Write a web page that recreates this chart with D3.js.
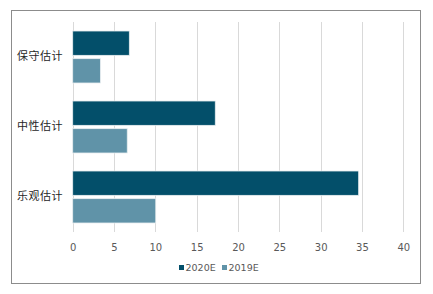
<!DOCTYPE html>
<html><head><meta charset="utf-8">
<script src="https://cdn.jsdelivr.net/npm/d3@7"></script>
<style>body{margin:0;background:#fff}</style>
</head><body>
<svg id="c" width="433" height="294"></svg>
<script>
const categories = ["保守估计", "中性估计", "乐观估计"];
const seriesNames = ["2020E", "2019E"];
const values2020 = [6.85, 17.25, 34.6];
const values2019 = [3.35, 6.6, 10.05];
const xTicks = [0, 5, 10, 15, 20, 25, 30, 35, 40];
const colors = ["#034f6a", "#6093a8"];

const svg = d3.select("#c");
svg.append("rect").attr("x", 11.5).attr("y", 10.5).attr("width", 409).attr("height", 273)
  .attr("fill", "#fff").attr("stroke", "#8c8c8c").attr("stroke-width", 1);

const x = d3.scaleLinear().domain([0, 40]).range([72.7, 403.3]);
const y = d3.scaleBand().domain(categories).range([22, 232]).paddingInner(0).paddingOuter(0);
const y1 = d3.scaleBand().domain(seriesNames).range([9, y.bandwidth() - 9]).paddingInner(0.12);

const xAxis = svg.append("g").attr("transform", "translate(0,232)")
  .call(d3.axisBottom(x).tickValues(xTicks).tickSize(0).tickPadding(12));
xAxis.select(".domain").remove();
xAxis.selectAll("text").attr("fill", "#595959").style("font-family", "'DejaVu Sans', sans-serif").style("font-size", "10px");

svg.append("g").selectAll("line").data(xTicks).join("line")
  .attr("x1", d => Math.round(x(d)) + 0.5).attr("x2", d => Math.round(x(d)) + 0.5)
  .attr("y1", 22).attr("y2", 232).attr("stroke", "#d9d9d9").attr("stroke-width", 1);

const data = categories.map((c, i) => ({c, v: [values2020[i], values2019[i]]}));
const g = svg.append("g").selectAll("g").data(data).join("g")
  .attr("transform", d => `translate(0,${y(d.c)})`);
g.selectAll("rect").data(d => d.v.map((v, j) => ({v, s: seriesNames[j], j}))).join("rect")
  .attr("x", x(0)).attr("y", d => y1(d.s)).attr("width", d => x(d.v) - x(0)).attr("height", y1.bandwidth())
  .attr("fill", d => colors[d.j]).attr("stroke", "#e8eef0").attr("stroke-width", 0.8);

svg.append("g").selectAll("text").data(categories).join("text")
  .attr("x", 63).attr("y", d => y(d) + y.bandwidth() / 2).attr("text-anchor", "end")
  .attr("dominant-baseline", "middle").attr("fill", "#262626")
  .style("font-family", "'Noto Sans CJK SC', sans-serif").style("font-size", "11px")
  .style("letter-spacing", "0.5px").text(d => d);

const leg = svg.append("g");
const legX = [179, 222];
seriesNames.forEach((s, i) => {
  leg.append("rect").attr("x", legX[i]).attr("y", 265).attr("width", 5).attr("height", 5).attr("fill", colors[i]);
  leg.append("text").attr("x", legX[i] + 6.5).attr("y", 268).attr("dominant-baseline", "middle")
    .attr("fill", "#595959").style("font-family", "'DejaVu Sans', sans-serif").style("font-size", "9.5px").text(s);
});
</script>
</body></html>
